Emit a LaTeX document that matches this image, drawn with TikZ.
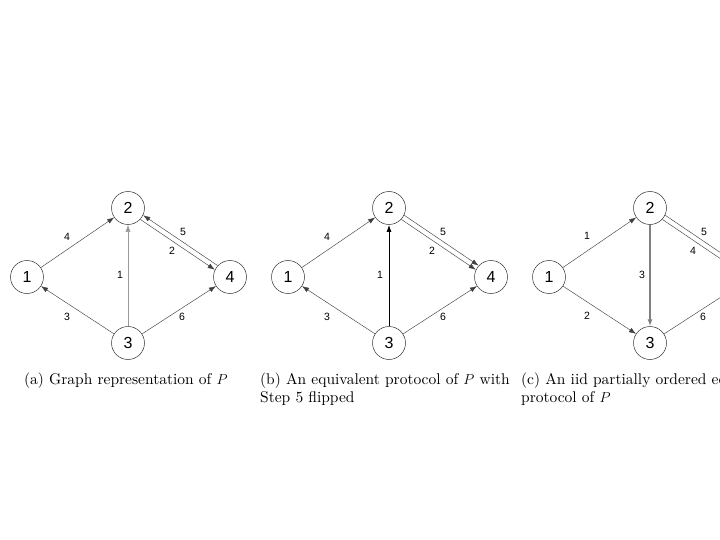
\documentclass[tikz,border=0pt]{standalone}
\usepackage{fontspec}
\newfontfamily\arialfont{Liberation Sans}
\newfontfamily\capfont{lmroman10-regular.otf}
\usetikzlibrary{arrows.meta}
\begin{document}
\begin{tikzpicture}[x=1pt,y=-1pt,
  vtx/.style={circle,draw=black!80,line width=0.5pt,minimum size=33pt,inner sep=0pt,font=\arialfont\fontsize{16}{16}\selectfont},
  lbl/.style={inner sep=0pt,font=\arialfont\fontsize{10.5}{11}\selectfont},
  edge/.style={draw=black!75,line width=0.45pt,-{Latex[length=7pt,width=5pt]}},
  up/.style={transform canvas={xshift=1.4pt,yshift=2.1pt}},
  dn/.style={transform canvas={xshift=-1.4pt,yshift=-2.1pt}},
  captxt/.style={inner sep=0pt,anchor=west,font=\capfont\fontsize{15.5}{18}\selectfont}
]
\useasboundingbox (0,0) rectangle (720,540);
\clip (0,0) rectangle (720,540);
% ---------- (a)
\node[vtx] (a1) at (27,277) {1};
\node[vtx] (a2) at (128,208) {2};
\node[vtx] (a4) at (230,277) {4};
\node[vtx] (a3) at (128,343) {3};
\draw[edge] (a1) -- (a2);
\draw[edge] (a3) -- (a1);
\draw[edge,draw=black!40] (a3) -- (a2);
\draw[edge] (a3) -- (a4);
\draw[edge,up] (a4) -- (a2);
\draw[edge,dn] (a2) -- (a4);
\node[lbl] (la4) at (67,237) {4};
\node[lbl] (la3) at (67,317) {3};
\node[lbl] (la1) at (120,275) {1};
\node[lbl] (la6) at (182,317) {6};
\node[lbl] (la5) at (183,232) {5};
\node[lbl] (la2) at (172,251) {2};
\node[captxt] (capa) at (24,381) {(a) Graph representation of $P$};
% ---------- (b)
\node[vtx] (b1) at (288,277) {1};
\node[vtx] (b2) at (389,208) {2};
\node[vtx] (b4) at (491,277) {4};
\node[vtx] (b3) at (389,343) {3};
\draw[edge] (b1) -- (b2);
\draw[edge] (b3) -- (b1);
\draw[edge,draw=black,line width=1pt] (b3) -- (b2);
\draw[edge] (b3) -- (b4);
\draw[edge,up] (b2) -- (b4);
\draw[edge,dn] (b2) -- (b4);
\node[lbl] (lb4) at (327,237) {4};
\node[lbl] (lb3) at (327,317) {3};
\node[lbl] (lb1) at (380,275) {1};
\node[lbl] (lb6) at (443,317) {6};
\node[lbl] (lb5) at (443,232) {5};
\node[lbl] (lb2) at (432,251) {2};
\node[captxt] (capb1) at (260,381) {(b) An equivalent protocol of $P$ with};
\node[captxt] (capb2) at (260,399) {Step 5 flipped};
% ---------- (c)
\node[vtx] (c1) at (549,277) {1};
\node[vtx] (c2) at (650,208) {2};
\node[vtx] (c4) at (752,277) {4};
\node[vtx] (c3) at (650,343) {3};
\draw[edge] (c1) -- (c2);
\draw[edge] (c1) -- (c3);
\draw[edge,draw=black!50,line width=1.3pt] (c2) -- (c3);
\draw[edge] (c3) -- (c4);
\draw[edge,up] (c2) -- (c4);
\draw[edge,dn] (c2) -- (c4);
\node[lbl] (lc1) at (587,236) {1};
\node[lbl] (lc2) at (587,316) {2};
\node[lbl] (lc3) at (642,275) {3};
\node[lbl] (lc4) at (693,251) {4};
\node[lbl] (lc5) at (704,232) {5};
\node[lbl] (lc6) at (703,317) {6};
\node[captxt] (capc1) at (521,381) {(c) An iid partially ordered equivalent};
\node[captxt] (capc2) at (521,399) {protocol of $P$};
\end{tikzpicture}
\end{document}
